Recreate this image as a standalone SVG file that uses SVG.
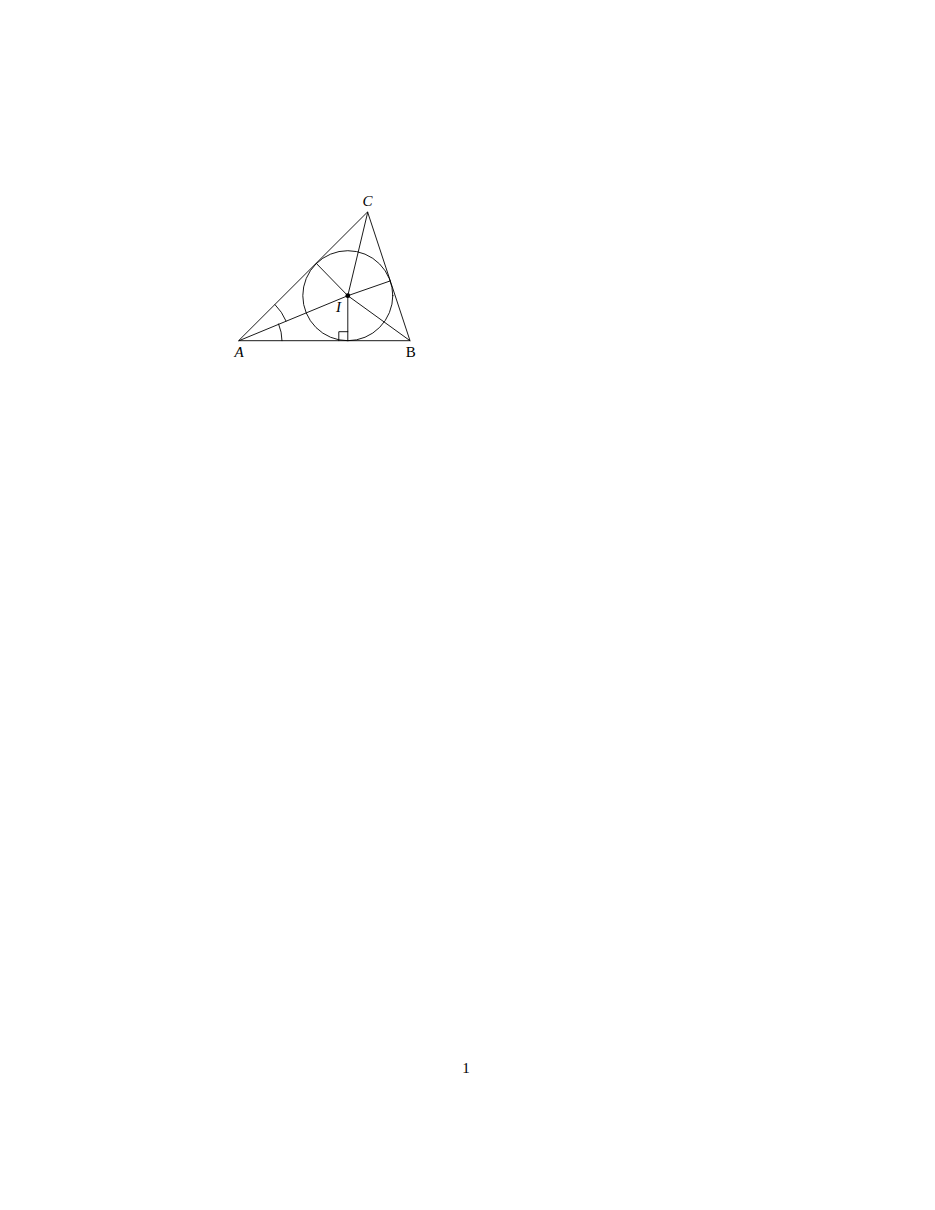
<svg xmlns="http://www.w3.org/2000/svg" width="935" height="1210" viewBox="0 0 935 1210">
<style>
.ln{fill:none;stroke:#000;stroke-width:0.9;stroke-linecap:round;stroke-linejoin:round}
.lbl{font-family:"Liberation Serif","DejaVu Serif",serif;font-size:15px;fill:#000;text-anchor:middle}
.it{font-style:italic}
</style>
<rect width="935" height="1210" fill="#fff"/>
<g id="connectors">
<path class="ln" d="M239,340.7 L410,340.7 L367.7,212.3 Z"/>
<circle class="ln" cx="347.8" cy="295.7" r="45"/>
<path class="ln" d="M239,340.7 L347.8,295.7 M410,340.7 L347.8,295.7 M367.7,212.3 L347.8,295.7"/>
<path class="ln" d="M347.8,295.7 L316.4,263.5 M347.8,295.7 L390.3,280.9 M347.8,295.7 L347.8,340.7"/>
<path class="ln" d="M338.8,340.7 L338.8,331.7 L347.8,331.7"/>
<path class="ln" d="M282,340.7 A43,43 0 0 0 278.6,324"/>
<path class="ln" d="M286,320.9 A51,51 0 0 0 275.1,304.7"/>
</g>
<g id="node-I"><circle cx="347.8" cy="295.7" r="2.4" fill="#000"/><text class="lbl it" x="338.5" y="311.5">I</text></g>
<g id="node-A"><text class="lbl it" x="239" y="356.5">A</text></g>
<g id="node-B"><text class="lbl" x="410.7" y="356.5">B</text></g>
<g id="node-C"><text class="lbl it" x="367.5" y="205.5">C</text></g>
<g id="page"><text class="lbl" x="466" y="1073">1</text></g>
</svg>
